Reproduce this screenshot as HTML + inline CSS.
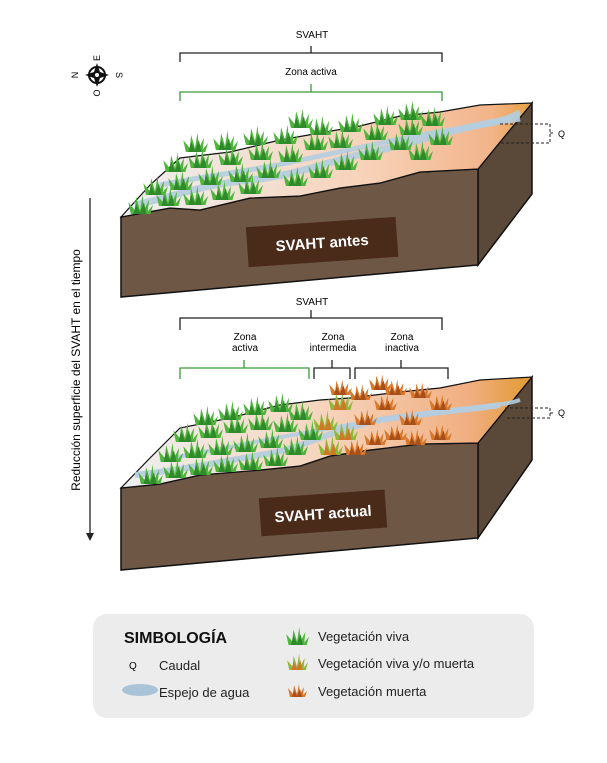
<!DOCTYPE html>
<html><head><meta charset="utf-8"><style>
html,body{margin:0;padding:0;background:#fff;}
svg{display:block;font-family:"Liberation Sans",sans-serif;}
</style></head><body>
<svg width="607" height="763" viewBox="0 0 607 763" xmlns="http://www.w3.org/2000/svg">
<defs>
<linearGradient id="top1" x1="0" y1="0" x2="1" y2="0">
<stop offset="0" stop-color="#eef0f2"/><stop offset="0.6" stop-color="#f7d2b8"/><stop offset="0.9" stop-color="#f2b48a"/><stop offset="1" stop-color="#e8a23e"/></linearGradient>
<linearGradient id="top2" x1="0" y1="0" x2="1" y2="0">
<stop offset="0" stop-color="#eef0f2"/><stop offset="0.5" stop-color="#f6d4bc"/><stop offset="0.85" stop-color="#f0ae80"/><stop offset="1" stop-color="#e29a30"/></linearGradient>
<g id="g0"><path d="M-7,0 L-9,-9 L-4,-3 L-3,-13 L0,-3 L2,-15 L3,-3 L7,-11 L6,-2 L10,-7 L8,0 Z" fill="#4fb43c"/><path d="M-5,0 L-3,-8 L0,-1 L3,-9 L5,0Z" fill="#2e8a2a"/></g>
<g id="o0"><path d="M-7,0 L-9,-9 L-4,-3 L-3,-12 L0,-3 L2,-13 L3,-3 L7,-10 L6,-2 L10,-6 L8,0 Z" fill="#d9782a"/><path d="M-5,0 L-3,-7 L0,-1 L3,-8 L5,0Z" fill="#a8501a"/></g>
<g id="m0"><path d="M-7,0 L-9,-9 L-4,-3 L-3,-13 L0,-3 L2,-15 L3,-3 L7,-11 L6,-2 L10,-7 L8,0 Z" fill="#8fb83a"/><path d="M-5,0 L-3,-8 L0,-1 L3,-9 L5,0Z" fill="#d07828"/></g>
<g id="g"><use href="#g0" transform="scale(1.3)"/></g>
<g id="o"><use href="#o0" transform="scale(1.2)"/></g>
<g id="m"><use href="#m0" transform="scale(1.3)"/></g>
</defs>

<text x="312" y="38" font-size="10" text-anchor="middle">SVAHT</text>
<path d="M180,62 V53 H442 V62 M311,53 V46" fill="none" stroke="#222" stroke-width="1.3"/>
<text x="311" y="75" font-size="10" text-anchor="middle">Zona activa</text>
<path d="M180,101 V92 H442 V101 M311,92 V84" fill="none" stroke="#3a9a3a" stroke-width="1.3"/>

<g transform="translate(97,75)">
<circle r="8" fill="none" stroke="#111" stroke-width="2"/>
<path d="M0,-12 L3,-3 L12,0 L3,3 L0,12 L-3,3 L-12,0 L-3,-3Z" fill="#111"/>
<circle r="2" fill="#fff"/>
</g>
<text font-size="9" transform="translate(78,75) rotate(-90)" text-anchor="middle">N</text>
<text font-size="9" transform="translate(116,75) rotate(90)" text-anchor="middle">S</text>
<text font-size="9" transform="translate(100,58) rotate(-90)" text-anchor="middle">E</text>
<text font-size="9" transform="translate(100,93) rotate(-90)" text-anchor="middle">O</text>

<line x1="90" y1="198" x2="90" y2="535" stroke="#222" stroke-width="1.3"/>
<path d="M86,533 L90,541 L94,533Z" fill="#222"/>
<text font-size="12" transform="translate(80,370) rotate(-90)" text-anchor="middle">Reducción superficie del SVAHT en el tiempo</text>

<!-- TOP BLOCK -->
<path d="M478,169 L532,103 L532,194 L478,265Z" fill="#5a4838" stroke="#111" stroke-width="1.5"/>
<path d="M121,217 L170,208 L200,210 L250,198 L300,196 L340,188 L380,183 L420,172 L478,169 L478,265 L121,297Z" fill="#6e5745" stroke="#111" stroke-width="1.5"/>
<path d="M121,217 L150,185 L180,158 L230,152 L280,140 L320,133 L360,126 L400,116 L440,112 L480,105 L532,103 L478,169 L420,172 L380,183 L340,188 L300,196 L250,198 L200,210 L170,208Z" fill="url(#top1)" stroke="#111" stroke-width="1.2"/>
<path d="M135,205 C180,195 200,185 250,180 C300,175 330,160 380,150 C420,142 450,128 520,118" fill="none" stroke="#b4cde0" stroke-width="7" opacity=".9"/>
<path d="M160,185 C210,175 260,170 310,158 C360,148 400,138 450,130 C480,126 500,122 520,112" fill="none" stroke="#b4cde0" stroke-width="5" opacity=".9"/>
<g>
<use href="#g" x="140" y="214"/><use href="#g" x="168" y="206"/><use href="#g" x="195" y="205"/><use href="#g" x="222" y="200"/><use href="#g" x="250" y="194"/><use href="#g" x="155" y="195"/>
<use href="#g" x="180" y="190"/><use href="#g" x="210" y="185"/><use href="#g" x="240" y="182"/><use href="#g" x="268" y="178"/><use href="#g" x="295" y="186"/><use href="#g" x="320" y="178"/>
<use href="#g" x="175" y="172"/><use href="#g" x="200" y="168"/><use href="#g" x="230" y="165"/><use href="#g" x="260" y="160"/><use href="#g" x="290" y="162"/><use href="#g" x="345" y="170"/>
<use href="#g" x="195" y="152"/><use href="#g" x="225" y="150"/><use href="#g" x="255" y="145"/><use href="#g" x="285" y="144"/><use href="#g" x="315" y="150"/><use href="#g" x="340" y="148"/>
<use href="#g" x="320" y="135"/><use href="#g" x="350" y="132"/><use href="#g" x="375" y="140"/><use href="#g" x="400" y="150"/><use href="#g" x="370" y="160"/><use href="#g" x="410" y="135"/>
<use href="#g" x="385" y="125"/><use href="#g" x="410" y="120"/><use href="#g" x="432" y="126"/><use href="#g" x="440" y="145"/><use href="#g" x="420" y="160"/><use href="#g" x="300" y="128"/>
</g>
<g transform="rotate(-4 322 241)"><rect x="247" y="222" width="150" height="40" fill="#4a2a18"/>
<text x="322" y="248" font-size="15" fill="#fff" text-anchor="middle" font-weight="bold">SVAHT antes</text></g>
<path d="M500,124 H550 V143 H500 M550,133 H555" fill="none" stroke="#222" stroke-dasharray="3,2"/>
<text x="558" y="137" font-size="9">Q</text>

<text x="312" y="305" font-size="10" text-anchor="middle">SVAHT</text>
<path d="M180,330 V318 H442 V330 M311,318 V310" fill="none" stroke="#222" stroke-width="1.3"/>
<text x="245" y="340" font-size="10" text-anchor="middle">Zona</text>
<text x="245" y="351" font-size="10" text-anchor="middle">activa</text>
<text x="333" y="340" font-size="10" text-anchor="middle">Zona</text>
<text x="333" y="351" font-size="10" text-anchor="middle">intermedia</text>
<text x="402" y="340" font-size="10" text-anchor="middle">Zona</text>
<text x="402" y="351" font-size="10" text-anchor="middle">inactiva</text>
<path d="M180,379 V368 H309 V379 M244,368 V360" fill="none" stroke="#3a9a3a" stroke-width="1.3"/>
<path d="M314,379 V368 H350 V379 M332,368 V360 M355,379 V368 H448 V379 M401,368 V360" fill="none" stroke="#222" stroke-width="1.3"/>

<!-- BOTTOM BLOCK -->
<path d="M478,443 L532,377 L532,460 L478,538Z" fill="#5a4838" stroke="#111" stroke-width="1.5"/>
<path d="M121,488 L160,484 L200,475 L260,470 L300,466 L330,456 L370,450 L420,444 L478,443 L478,538 L121,570Z" fill="#6e5745" stroke="#111" stroke-width="1.5"/>
<path d="M121,488 L150,458 L180,428 L230,418 L280,405 L320,400 L350,398 L400,392 L440,388 L480,380 L532,377 L478,443 L420,444 L370,450 L330,456 L300,466 L260,470 L200,475 L160,484Z" fill="url(#top2)" stroke="#111" stroke-width="1.2"/>
<path d="M135,475 C180,470 220,462 260,455 C300,450 330,430 380,420 C430,412 470,410 500,405" fill="none" stroke="#b4cde0" stroke-width="6" opacity=".9"/>
<path d="M160,460 C210,452 260,440 310,432 C360,422 410,415 470,408 C490,405 505,405 520,400" fill="none" stroke="#b4cde0" stroke-width="4" opacity=".9"/>
<g>
<use href="#g" x="150" y="484"/><use href="#g" x="175" y="478"/><use href="#g" x="200" y="475"/><use href="#g" x="225" y="472"/><use href="#g" x="250" y="470"/><use href="#g" x="275" y="466"/>
<use href="#g" x="170" y="462"/><use href="#g" x="195" y="458"/><use href="#g" x="220" y="455"/><use href="#g" x="245" y="452"/><use href="#g" x="270" y="448"/><use href="#g" x="295" y="455"/>
<use href="#g" x="185" y="442"/><use href="#g" x="210" y="438"/><use href="#g" x="235" y="433"/><use href="#g" x="260" y="430"/><use href="#g" x="285" y="432"/><use href="#g" x="310" y="440"/>
<use href="#g" x="205" y="425"/><use href="#g" x="230" y="420"/><use href="#g" x="255" y="415"/><use href="#g" x="280" y="412"/><use href="#g" x="300" y="420"/>
<use href="#m" x="325" y="430"/><use href="#m" x="340" y="410"/><use href="#m" x="330" y="455"/><use href="#m" x="345" y="440"/>
<use href="#o" x="340" y="395"/><use href="#o" x="360" y="400"/><use href="#o" x="355" y="455"/><use href="#o" x="375" y="445"/><use href="#o" x="365" y="425"/>
<use href="#o" x="385" y="410"/><use href="#o" x="395" y="440"/><use href="#o" x="410" y="425"/><use href="#o" x="420" y="398"/><use href="#o" x="440" y="410"/>
<use href="#o" x="415" y="445"/><use href="#o" x="440" y="440"/><use href="#o" x="395" y="395"/><use href="#o" x="380" y="390"/>
</g>
<g transform="rotate(-4 322 513)"><rect x="260" y="494" width="126" height="38" fill="#4a2a18"/>
<text x="323" y="519" font-size="15" fill="#fff" text-anchor="middle" font-weight="bold">SVAHT actual</text></g>
<path d="M505,408 H550 V418 H505 M550,413 H555" fill="none" stroke="#222" stroke-dasharray="3,2"/>
<text x="558" y="416" font-size="9">Q</text>

<!-- LEGEND -->
<rect x="93" y="614" width="441" height="104" rx="14" fill="#ececec"/>
<text x="124" y="643" font-size="16" font-weight="bold" fill="#111">SIMBOLOGÍA</text>
<text x="129" y="669" font-size="10">Q</text>
<text x="159" y="670" font-size="13" fill="#222">Caudal</text>
<ellipse cx="140" cy="690" rx="18" ry="6" fill="#a9c3d8"/>
<text x="159" y="697" font-size="13" fill="#222">Espejo de agua</text>
<g transform="translate(297,645) scale(1.2)"><use href="#g0"/></g>
<g transform="translate(297,670) scale(1.1)"><use href="#m0"/></g>
<g transform="translate(297,697) scale(1)"><use href="#o0"/></g>
<text x="318" y="641" font-size="13" fill="#222">Vegetación viva</text>
<text x="318" y="668" font-size="13" fill="#222">Vegetación viva y/o muerta</text>
<text x="318" y="696" font-size="13" fill="#222">Vegetación muerta</text>
</svg>
</body></html>
